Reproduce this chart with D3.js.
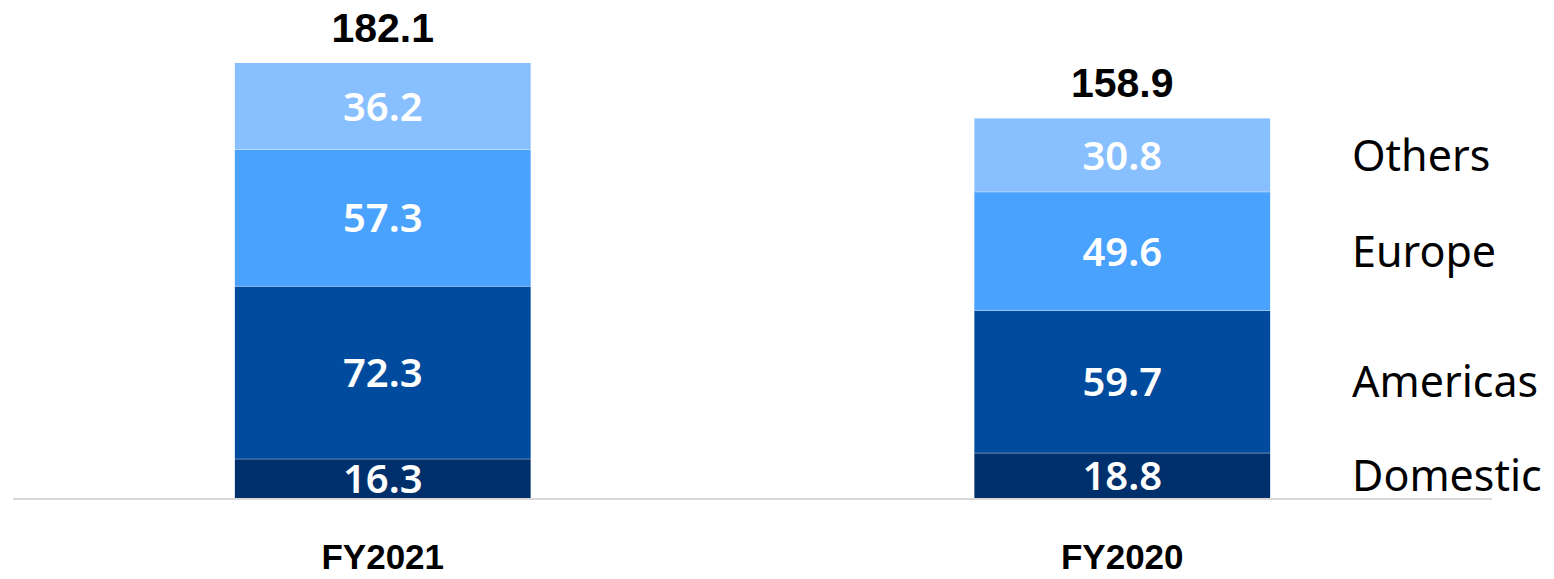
<!DOCTYPE html>
<html>
<head>
<meta charset="utf-8">
<script src="https://cdn.jsdelivr.net/npm/d3@7"></script>
<style>
	body { margin: 0; background: #fff; }
	svg { display: block; }
</style>
</head>
<body>
<svg width="1554" height="579"></svg>
<script>
const years = ['FY2021', 'FY2020'],
	regions = ['Domestic', 'Americas', 'Europe', 'Others'],
	domestic = [16.3, 18.8],
	americas = [72.3, 59.7],
	europe = [57.3, 49.6],
	others = [36.2, 30.8],
	totals = [182.1, 158.9];

const colors = ['#00306b', '#004b9e', '#4aa2ff', '#88c0ff'];

const svg = d3.select('svg'),
	baseY = 498;

// rows for the stack
let rows = years.map((y, i) => ({
	year: y,
	Domestic: domestic[i],
	Americas: americas[i],
	Europe: europe[i],
	Others: others[i],
	total: totals[i]
}));

let xScale = d3.scaleBand()
	.domain(years)
	.range([13, 1492])
	.paddingInner(0.6)
	.paddingOuter(0.3);

let yScale = d3.scaleLinear()
	.domain([0, 200])
	.range([baseY, baseY - 2.389 * 200]);

let stack = d3.stack().keys(regions)(rows);

let layers = svg.append('g')
	.selectAll('g')
	.data(stack)
	.enter()
	.append('g')
	.attr('fill', (d, i) => colors[i]);

layers.selectAll('rect')
	.data(d => d)
	.enter()
	.append('rect')
	.attr('x', d => xScale(d.data.year))
	.attr('y', d => yScale(d[1]))
	.attr('width', xScale.bandwidth())
	.attr('height', d => yScale(d[0]) - yScale(d[1]));

// thin light seams between segments
layers.filter((d, i) => i > 0)
	.selectAll('line')
	.data(d => d)
	.enter()
	.append('line')
	.attr('x1', d => xScale(d.data.year))
	.attr('x2', d => xScale(d.data.year) + xScale.bandwidth())
	.attr('y1', d => yScale(d[0]))
	.attr('y2', d => yScale(d[0]))
	.attr('stroke', '#ffffff')
	.attr('stroke-opacity', 0.35)
	.attr('stroke-width', 1);

// values inside segments
layers.selectAll('text')
	.data(d => d)
	.enter()
	.append('text')
	.attr('x', d => xScale(d.data.year) + xScale.bandwidth() / 2)
	.attr('y', d => (yScale(d[0]) + yScale(d[1])) / 2)
	.attr('dy', '0.36em')
	.attr('text-anchor', 'middle')
	.attr('fill', '#fff')
	.style('font-family', '"Noto Sans", sans-serif')
	.style('font-weight', 600)
	.style('font-size', '40px')
	.text(d => (d[1] - d[0]).toFixed(1));

// totals above bars
svg.append('g')
	.selectAll('text')
	.data(rows)
	.enter()
	.append('text')
	.attr('x', d => xScale(d.year) + xScale.bandwidth() / 2)
	.attr('y', d => yScale(d.total) - 21)
	.attr('text-anchor', 'middle')
	.attr('fill', '#000')
	.style('font-family', '"Liberation Sans", Arial, sans-serif')
	.style('font-weight', 'bold')
	.style('font-size', '41px')
	.text(d => d.total.toFixed(1));

// baseline
svg.append('line')
	.attr('x1', 13)
	.attr('x2', 1492)
	.attr('y1', baseY + 1)
	.attr('y2', baseY + 1)
	.attr('stroke', '#d9d9d9')
	.attr('stroke-width', 2);

// category labels
let xAxis = svg.append('g')
	.attr('transform', `translate(0, ${baseY})`)
	.call(d3.axisBottom(xScale).tickSize(0).tickPadding(0));

xAxis.select('.domain').remove();
xAxis.selectAll('text')
	.attr('y', 71)
	.attr('dy', 0)
	.attr('fill', '#000')
	.style('font-family', '"Liberation Sans", Arial, sans-serif')
	.style('font-weight', 'bold')
	.style('font-size', '35px');

// region labels on the right, next to last bar
let last = stack.map(s => s[s.length - 1]);
svg.append('g')
	.selectAll('text')
	.data(last)
	.enter()
	.append('text')
	.attr('x', 1352)
	.attr('y', d => (yScale(d[0]) + yScale(d[1])) / 2)
	.attr('dy', '0.36em')
	.attr('fill', '#000')
	.style('font-family', '"Noto Sans", sans-serif')
	.style('font-size', '43px')
	.text((d, i) => regions[i]);
</script>
</body>
</html>
